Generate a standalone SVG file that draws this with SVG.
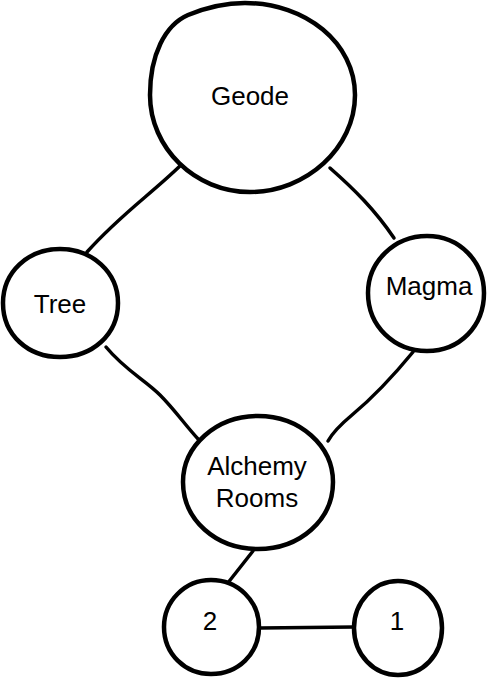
<svg xmlns="http://www.w3.org/2000/svg" width="491" height="678" viewBox="0 0 491 678">
<style>
.node{fill:#fff;stroke:#000;stroke-width:4.5;stroke-linejoin:round}
.edge{fill:none;stroke:#000;stroke-width:3.5;stroke-linecap:round}
.lbl{font-family:"Liberation Sans",Arial,sans-serif;font-size:26px;fill:#000;text-anchor:middle}
</style>
<rect width="491" height="678" fill="#fff"/>
<g id="connectors">
<path class="edge" d="M181,165 C150,195 120,215 87,252"/>
<path class="edge" d="M330,168 C355,190 375,210 394,238"/>
<path class="edge" d="M106,347 C125,370 145,380 160,395 C175,410 185,425 199,440"/>
<path class="edge" d="M413,352 C390,380 370,400 352,415 C340,425 333,432 328,441"/>
<path class="edge" d="M253,551 L227,584"/>
<path class="edge" d="M260,628 L354,627"/>
</g>
<g id="geode">
<path class="node" d="M245,3 C306,3 355,43 355,95 C355,148 306,192 250,192 C195,192 150,148 150,95 C150,55 165,25 188,15 C205,8 225,3 245,3 Z"/>
<text class="lbl" x="250" y="105">Geode</text>
</g>
<g id="tree">
<path class="node" d="M60,249 C92,249 118,272 118,303 C118,335 92,357 60,357 C28,357 3,335 3,303 C3,272 28,249 60,249 Z"/>
<text class="lbl" x="60" y="313">Tree</text>
</g>
<g id="magma">
<path class="node" d="M427,236 C460,236 484,262 484,293 C484,326 460,351 427,351 C394,351 368,326 368,293 C368,262 394,236 427,236 Z"/>
<text class="lbl" x="429" y="295">Magma</text>
</g>
<g id="alchemy">
<path class="node" d="M258,416 C300,416 333,446 333,482 C333,520 300,549 258,549 C216,549 183,520 183,482 C183,446 216,416 258,416 Z"/>
<text class="lbl" x="257" y="475">Alchemy</text>
<text class="lbl" x="257" y="507">Rooms</text>
</g>
<g id="n2">
<path class="node" d="M211,580 C238,580 259,601 259,627 C259,654 238,674 211,674 C185,674 164,654 164,627 C164,601 185,580 211,580 Z"/>
<text class="lbl" x="210" y="630">2</text>
</g>
<g id="n1">
<path class="node" d="M398,581 C423,581 442,602 442,628 C442,655 423,675 398,675 C374,675 354,655 354,628 C354,602 374,581 398,581 Z"/>
<text class="lbl" x="397" y="630">1</text>
</g>
</svg>
